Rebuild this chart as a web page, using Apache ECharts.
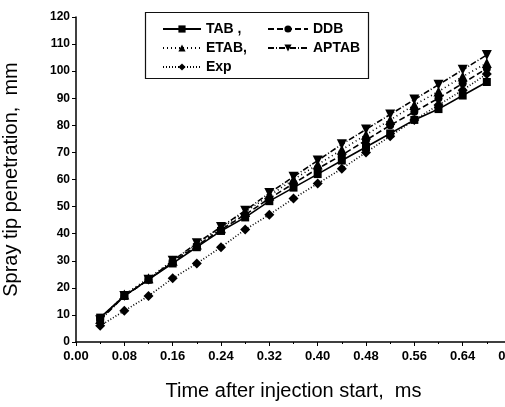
<!DOCTYPE html>
<html>
<head>
<meta charset="utf-8">
<script src="https://cdn.jsdelivr.net/npm/echarts@6/dist/echarts.min.js"></script>
<style>
  html, body { margin: 0; padding: 0; background: #fff; }
  #chart { width: 505px; height: 407px; }
</style>
</head>
<body>
<div id="chart"></div>
<script>
// time after injection start, ms
const times = [0.04, 0.08, 0.12, 0.16, 0.20, 0.24, 0.28, 0.32, 0.36, 0.40, 0.44, 0.48, 0.52, 0.56, 0.60, 0.64, 0.68];
// spray tip penetration, mm
const tab   = [9, 17, 23, 29, 35, 41, 46, 52, 57, 62, 67, 72, 77, 82, 86, 91, 96];
const ddb   = [8.5, 17, 23, 29.5, 35.5, 41.5, 47, 53, 58.5, 64, 69, 74.5, 80, 85, 90, 95.5, 101];
const etab  = [8.5, 17.5, 23.5, 30, 36, 42, 48, 54, 60, 65.5, 71, 76.5, 82, 87.5, 92.5, 98, 103];
const aptab = [8, 17, 23, 30, 36.5, 42.5, 48.5, 55, 61, 67, 73, 78.5, 84, 89.5, 95, 100.5, 106];
const exp   = [6, 11.5, 17, 23.5, 29, 35, 41.5, 47, 53, 58.5, 64, 70, 76, 82, 87.5, 93, 99];

const pairs = arr => times.map((t, i) => [t, arr[i]]);
const font = "'Liberation Sans', Arial, sans-serif";

const mk = (name, data, symbol, size, type, rotate) => ({
  name: name,
  type: 'line',
  data: pairs(data),
  symbol: symbol,
  symbolSize: size,
  symbolRotate: rotate || 0,
  itemStyle: { color: '#000' },
  lineStyle: { color: '#000', width: 1.6, type: type },
  emphasis: { disabled: true },
  z: 3
});

const chart = echarts.init(document.getElementById('chart'));
chart.setOption({
  animation: false,
  backgroundColor: '#fff',
  grid: { left: 76, top: 17, right: -6, bottom: 65, outerBoundsMode: 'none', containLabel: false },
  xAxis: {
    type: 'value',
    min: 0, max: 0.72, interval: 0.08,
    name: 'Time after injection start,  ms',
    nameLocation: 'middle',
    nameGap: 39,
    nameTextStyle: { fontFamily: font, fontSize: 20, color: '#000' },
    axisLine: { lineStyle: { color: '#000', width: 1.5 } },
    axisTick: { inside: false, length: 4, lineStyle: { color: '#000' } },
    minorTick: { show: true, splitNumber: 2, length: 2, lineStyle: { color: '#000' } },
    axisLabel: {
      fontFamily: font, fontSize: 13, fontWeight: 'bold', color: '#000', margin: 8,
      formatter: v => v.toFixed(2)
    },
    splitLine: { show: false }
  },
  yAxis: {
    type: 'value',
    min: 0, max: 120, interval: 10,
    name: 'Spray tip penetration,  mm',
    nameLocation: 'middle',
    nameGap: 55,
    nameTextStyle: { fontFamily: font, fontSize: 20, color: '#000' },
    axisLine: { show: true, lineStyle: { color: '#000', width: 1.5 } },
    axisTick: { show: true, inside: false, length: 4, lineStyle: { color: '#000' } },
    axisLabel: { fontFamily: font, fontSize: 12, fontWeight: 'bold', color: '#000', margin: 6 },
    splitLine: { show: false }
  },
  legend: [
    {
      data: ['TAB', 'ETAB', 'Exp'],
      orient: 'vertical', left: 157, top: 17,
      itemWidth: 38, itemHeight: 9, itemGap: 5,
      formatter: n => n === 'TAB' ? 'TAB ,' : (n === 'ETAB' ? 'ETAB,' : n),
      textStyle: { fontFamily: font, fontSize: 14, fontWeight: 'bold', color: '#000' },
      selectedMode: false
    },
    {
      data: ['DDB', 'APTAB'],
      orient: 'vertical', left: 262, top: 17,
      itemWidth: 40, itemHeight: 9, itemGap: 5,
      textStyle: { fontFamily: font, fontSize: 14, fontWeight: 'bold', color: '#000' },
      selectedMode: false
    }
  ],
  graphic: [{
    type: 'rect',
    left: 143, top: 10,
    shape: { width: 223, height: 66 },
    style: { fill: 'none', stroke: '#111', lineWidth: 1.2 },
    z: 10
  }],
  series: [
    mk('TAB', tab, 'rect', 8, 'solid'),
    mk('DDB', ddb, 'circle', 8, [6, 3]),
    mk('ETAB', etab, 'triangle', 10, [1, 3]),
    mk('APTAB', aptab, 'triangle', 10, [6, 2, 1, 2], 180),
    mk('Exp', exp, 'diamond', 10, [1, 2])
  ]
});
</script>
</body>
</html>
